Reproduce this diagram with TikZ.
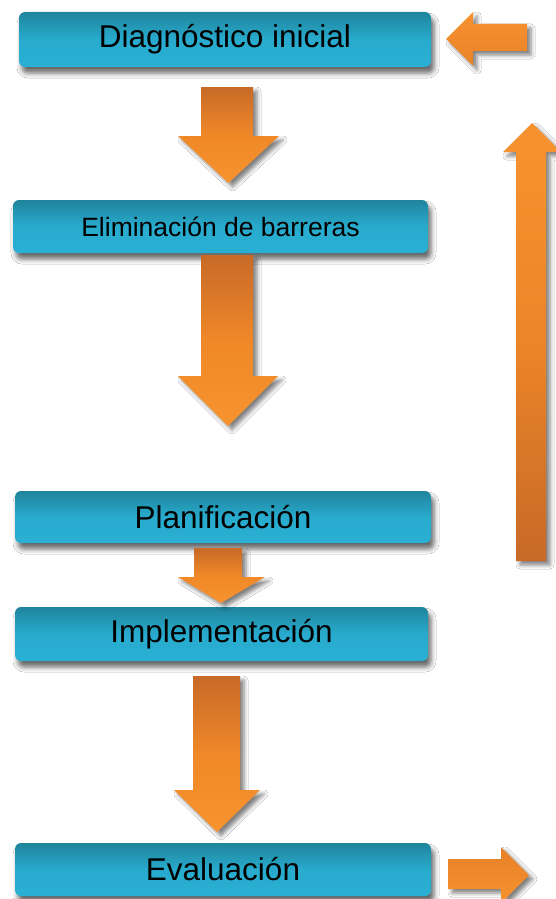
\documentclass[tikz,border=0pt]{standalone}
\usepackage{fontspec}
\setmainfont{Liberation Sans}
\usetikzlibrary{shadows.blur}
\definecolor{tealtop}{HTML}{20849C}
\definecolor{tealbot}{HTML}{29B0D4}
\definecolor{ordark}{HTML}{C76A28}
\definecolor{ormid}{HTML}{F08828}
\definecolor{orlight}{HTML}{F6932F}
\begin{document}
\begin{tikzpicture}[x=1pt,y=-1pt,
  stagebox/.style={rounded corners=6pt, top color=tealtop, bottom color=tealbot,
    middle color=tealbot!88!tealtop, inner sep=0pt, text=black,
    font=\fontsize{31.5}{36}\selectfont,
    blur shadow={shadow xshift=3pt, shadow yshift=-6pt, shadow blur radius=5pt, shadow opacity=60}},
  arrshadow/.style={blur shadow={shadow xshift=4pt, shadow yshift=-4pt, shadow blur radius=4pt, shadow opacity=50}},
  downarrow/.style={arrshadow, top color=ordark, bottom color=orlight, middle color=ormid},
  uparrow/.style={arrshadow, top color=orlight, bottom color=ordark, middle color=ormid!90!ordark},
  leftarrow/.style={arrshadow, top color=orlight, bottom color=ormid!80!ordark},
  rightarrow/.style={arrshadow, top color=ormid!75!ordark, bottom color=orlight}]
\useasboundingbox (0,0) rectangle (556,899);
\fill[white] (0,0) rectangle (556,899);

% boxes
\node[stagebox, minimum width=412pt, minimum height=55pt] (diag) at (225,39.5) {Diagnóstico inicial};
\node[stagebox, minimum width=415pt, minimum height=53pt, font=\fontsize{26.5}{30}\selectfont] (elim) at (220.5,226.5) {Eliminación de barreras};
\node[stagebox, minimum width=416pt, minimum height=52pt] (plan) at (223,517) {Planificación};
\node[stagebox, minimum width=413pt, minimum height=54pt] (impl) at (221.5,634) {Implementación};
\node[stagebox, minimum width=416pt, minimum height=53pt] (eval) at (223,869.5) {Evaluación};

% down arrows between boxes
\path[downarrow] (201,87) -- (253,87) -- (253,136) -- (279,136) -- (228.5,183) -- (178,136) -- (201,136) -- cycle;
\path[downarrow] (201,255) -- (253,255) -- (253,376) -- (278,376) -- (228,426) -- (178,376) -- (201,376) -- cycle;
\path[downarrow] (194,548) -- (242,548) -- (242,577) -- (265,577) -- (221,603) -- (178,577) -- (194,577) -- cycle;
\path[downarrow] (193,676) -- (240,676) -- (240,790) -- (260,790) -- (217,832) -- (174,790) -- (193,790) -- cycle;

% side arrows
\path[leftarrow] (527,24) -- (527,51) -- (473,51) -- (473,66) -- (446,39) -- (473,12) -- (473,24) -- cycle;
\path[uparrow] (516,561) -- (546,561) -- (546,152) -- (561,152) -- (532,123) -- (503,152) -- (516,152) -- cycle;
\path[rightarrow] (448,859) -- (501,859) -- (501,847) -- (529,875) -- (501,903) -- (501,889) -- (448,889) -- cycle;
\end{tikzpicture}
\end{document}
